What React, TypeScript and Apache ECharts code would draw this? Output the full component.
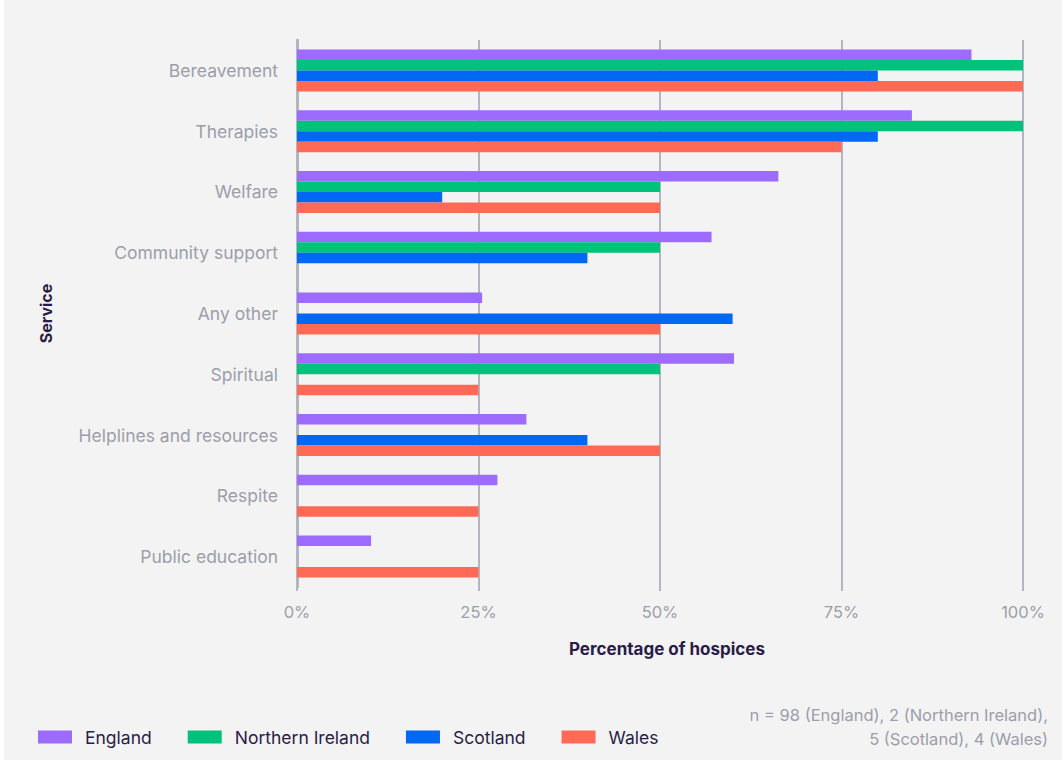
import React, { useEffect, useRef } from "react";
import * as echarts from "echarts";

const categories = [
  "Bereavement",
  "Therapies",
  "Welfare",
  "Community support",
  "Any other",
  "Spiritual",
  "Helplines and resources",
  "Respite",
  "Public education",
];
const england = [92.9, 84.7, 66.3, 57.1, 25.5, 60.2, 31.6, 27.6, 10.2];
const northernIreland = [100, 100, 50, 50, null, 50, null, null, null];
const scotland = [80, 80, 20, 40, 60, null, 40, null, null];
const wales = [100, 75, 50, null, 50, 25, 50, 25, 25];
const seriesNames = ["England", "Northern Ireland", "Scotland", "Wales"];
const seriesColors = ["#9e6bff", "#00c27a", "#0068f2", "#ff6a57"];
const xTicks = [0, 25, 50, 75, 100];
const noteLines = ["n = 98 (England), 2 (Northern Ireland),", "5 (Scotland), 4 (Wales)"];

const FONT = "Inter, 'Noto Sans', sans-serif";
const GRAY = "#9c9ea9";
const DARK = "#2a1c48";
const GRID = "#b3b6bf";

export default function App() {
  const ref = useRef<HTMLDivElement>(null);
  useEffect(() => {
    if (!ref.current) return;
    const chart = echarts.init(ref.current, null, { renderer: "svg" });
    const allData = [england, northernIreland, scotland, wales];
    chart.setOption({
      animation: false,
      backgroundColor: "#f3f3f3",
      textStyle: { fontFamily: FONT },
      legend: {
        left: 29,
        top: 723,
        itemWidth: 34,
        itemHeight: 13,
        itemGap: 36,
        icon: "rect",
        data: seriesNames,
        textStyle: { color: DARK, fontSize: 17.5, fontFamily: FONT, padding: [0, 0, 0, 8] },
      },
      grid: { left: 293, right: 39, top: 40, bottom: 173, containLabel: false },
      xAxis: {
        type: "value",
        min: 0,
        max: 100,
        interval: 25,
        name: "Percentage of hospices",
        nameLocation: "middle",
        nameGap: 53,
        nameTextStyle: {
          color: DARK,
          fontSize: 17,
          fontWeight: "bold",
          fontFamily: FONT,
          padding: [0, 0, 0, 14],
        },
        axisLine: { show: false },
        axisTick: { show: true, length: 4, lineStyle: { color: GRID, width: 2 } },
        axisLabel: {
          color: GRAY,
          fontSize: 16.5,
          margin: 16,
          fontFamily: FONT,
          formatter: (v: number) => (xTicks.includes(v) ? v + "%" : ""),
        },
        splitLine: { show: true, lineStyle: { color: GRID, width: 2 } },
      },
      yAxis: {
        type: "category",
        inverse: true,
        data: categories,
        name: "Service",
        nameLocation: "middle",
        nameGap: 243,
        nameRotate: 90,
        nameTextStyle: { color: DARK, fontSize: 16, fontWeight: "bold", fontFamily: FONT },
        axisLine: { show: true, lineStyle: { color: GRID, width: 3 } },
        axisTick: { show: false },
        axisLabel: { color: GRAY, fontSize: 17.5, margin: 19, fontFamily: FONT },
      },
      series: seriesNames.map((name, i) => ({
        name,
        type: "bar",
        data: allData[i],
        barWidth: 10.5,
        barGap: "0%",
        itemStyle: { color: seriesColors[i] },
      })),
      graphic: noteLines.map((t, i) => ({
        type: "text",
        right: 14,
        top: 706 + i * 24,
        style: {
          text: t,
          fill: GRAY,
          font: `16.5px ${FONT}`,
          textAlign: "right",
        },
      })),
    });
    return () => chart.dispose();
  }, []);
  return (
    <div style={{ position: "absolute", left: 0, top: 0, width: 1062, height: 760, background: "#ffffff" }}>
      <div ref={ref} style={{ position: "absolute", left: 4, top: 0, width: 1058, height: 760 }} />
    </div>
  );
}
